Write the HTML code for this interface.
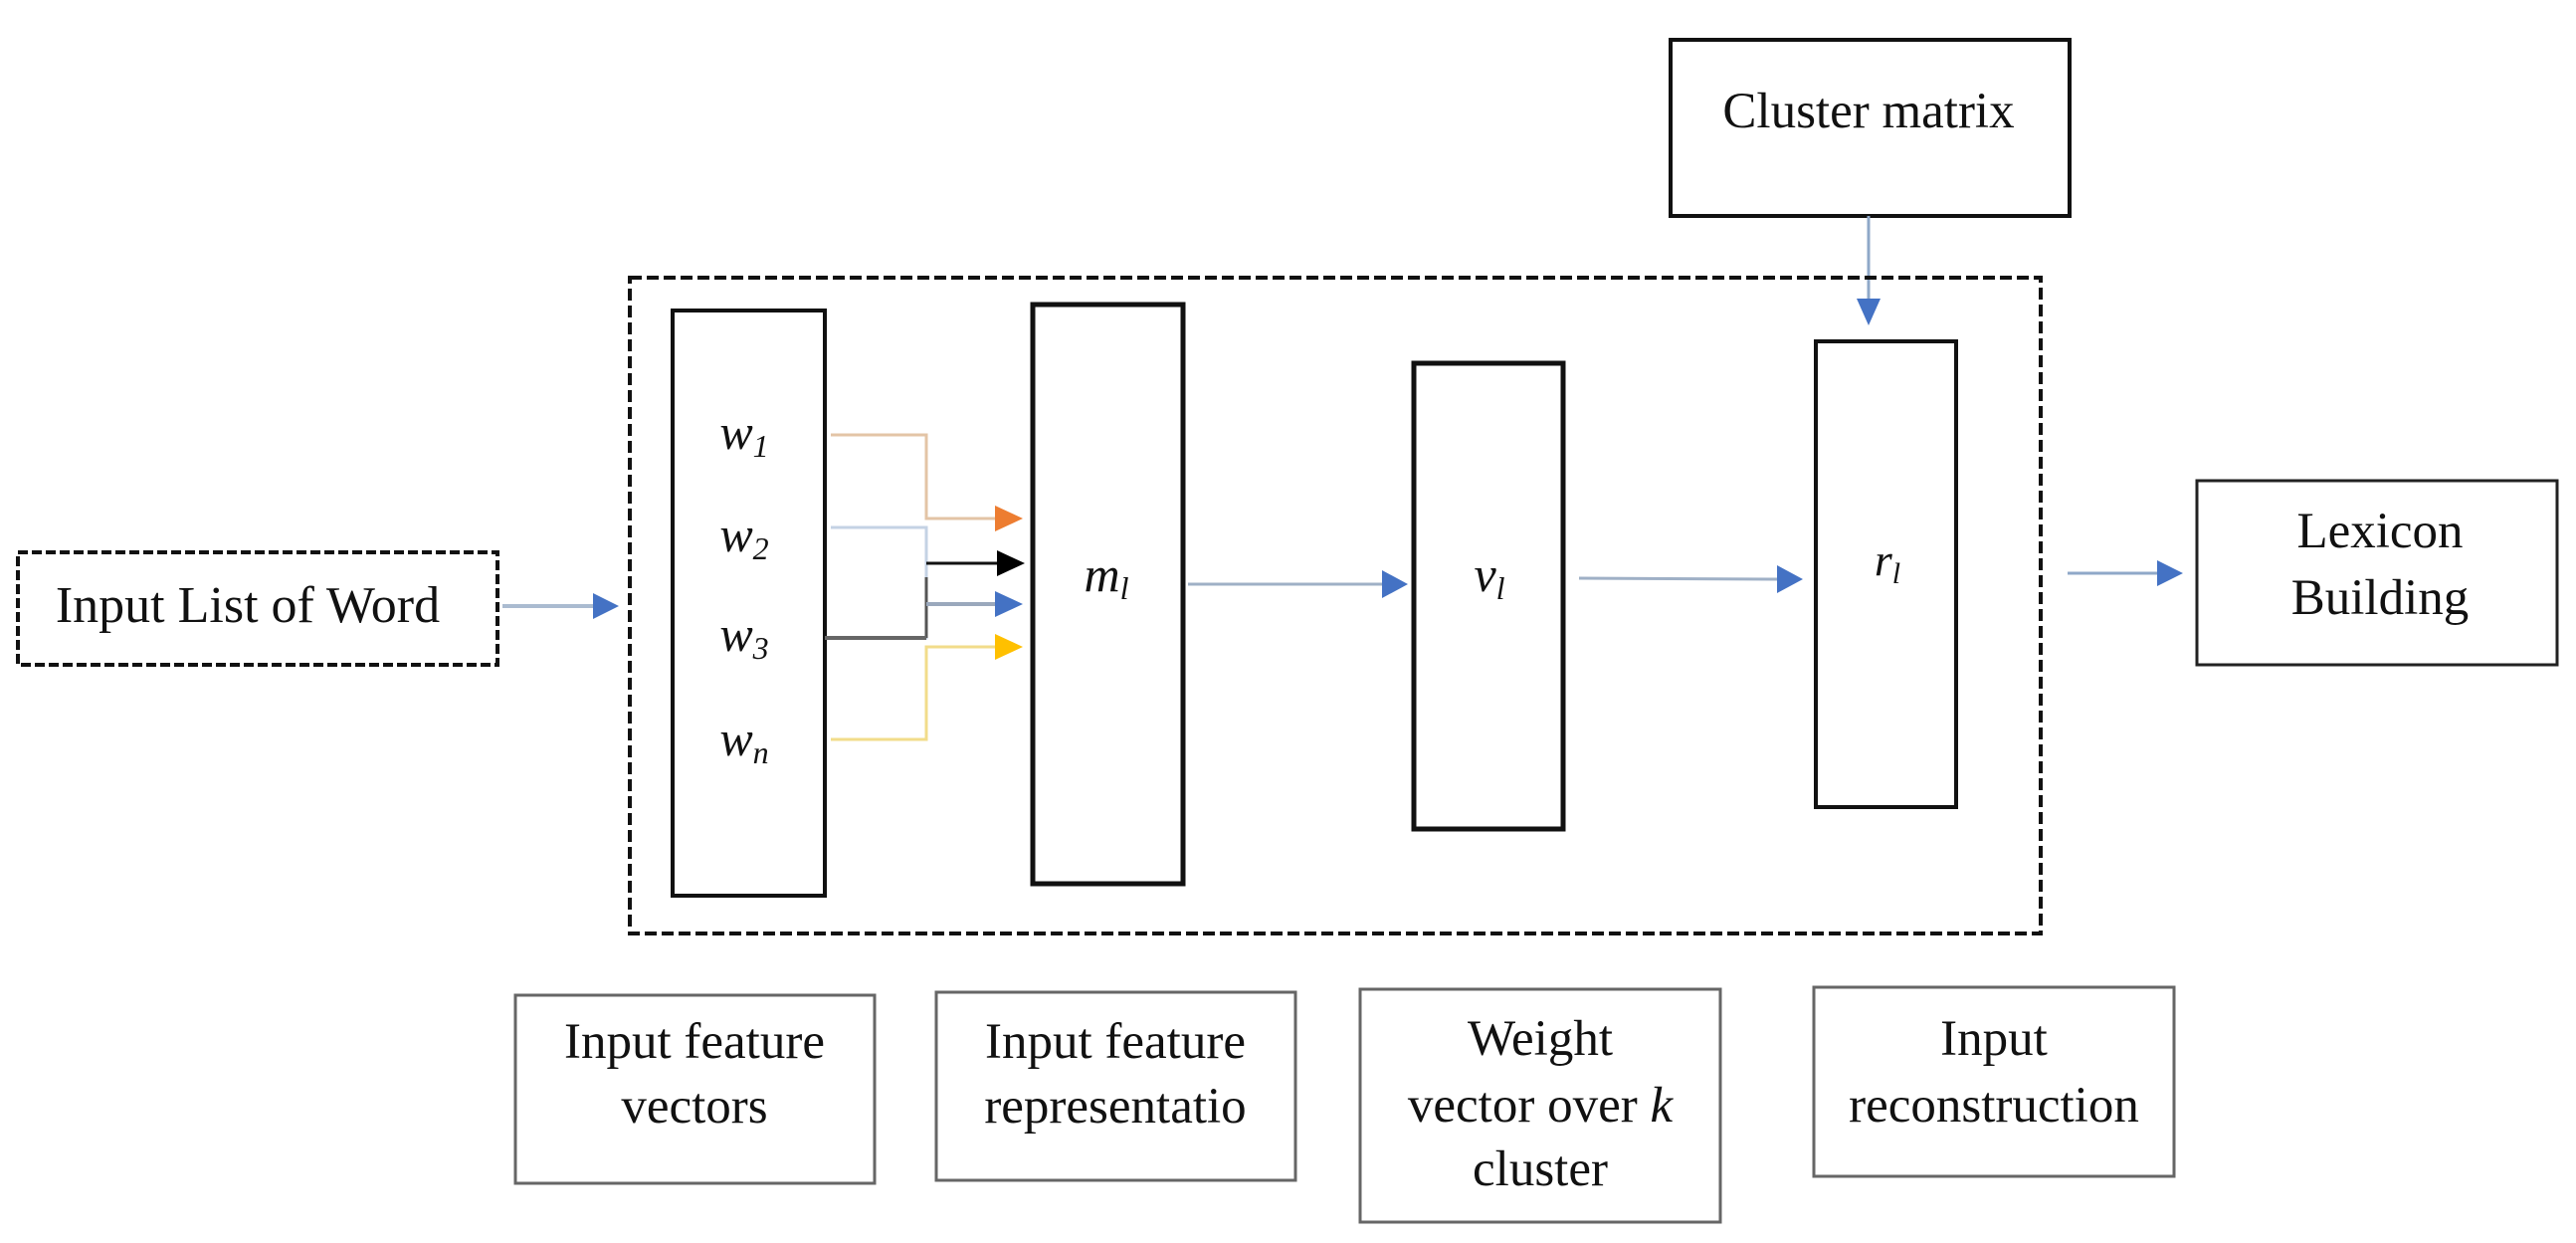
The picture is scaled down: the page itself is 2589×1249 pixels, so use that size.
<!DOCTYPE html>
<html><head><meta charset="utf-8"><style>
html,body{margin:0;padding:0;background:#fff;}
svg{display:block;}
text{font-family:"Liberation Serif",serif;fill:#111;}
</style></head><body>
<svg width="2589" height="1249" viewBox="0 0 2589 1249" xmlns="http://www.w3.org/2000/svg">
<!-- Cluster matrix -->
<rect x="1679" y="40" width="401" height="177" fill="none" stroke="#111" stroke-width="4"/>
<text x="1878" y="128" font-size="51" text-anchor="middle">Cluster matrix</text>
<line x1="1878" y1="217" x2="1878" y2="300" stroke="#8fa8c8" stroke-width="3"/>
<path d="M1866,300 L1890,300 L1878,327 z" fill="#4472C4"/>

<!-- outer dashed -->
<rect x="633" y="279" width="1418" height="659" fill="none" stroke="#111" stroke-width="4" stroke-dasharray="12,5"/>

<!-- Input list -->
<rect x="18" y="555" width="482" height="113" fill="none" stroke="#111" stroke-width="4" stroke-dasharray="10,4"/>
<text x="249" y="625" font-size="52" text-anchor="middle">Input List of Word</text>
<line x1="505" y1="609" x2="598" y2="609" stroke="#aabbd0" stroke-width="4"/>
<path d="M596,596 L622,609 L596,622 z" fill="#4472C4"/>

<!-- w box -->
<rect x="676" y="312" width="153" height="588" fill="none" stroke="#111" stroke-width="4"/>
<g font-size="50" font-style="italic" text-anchor="middle">
<text x="748" y="451">w<tspan font-size="32" dy="8">1</tspan></text>
<text x="748" y="554">w<tspan font-size="32" dy="8">2</tspan></text>
<text x="748" y="654">w<tspan font-size="32" dy="8">3</tspan></text>
<text x="748" y="759">w<tspan font-size="32" dy="8">n</tspan></text>
</g>
<!-- connectors -->
<polyline points="835,437 931,437 931,521 1002,521" fill="none" stroke="#e3c4a6" stroke-width="3"/>
<path d="M1000,508 L1028,521 L1000,534 z" fill="#ED7D31"/>
<polyline points="835,530 931,530 931,641 829,641" fill="none" stroke="#c4d2e4" stroke-width="3"/>
<line x1="931" y1="580" x2="931" y2="641" stroke="#555" stroke-width="3"/>
<line x1="829" y1="641" x2="931" y2="641" stroke="#666" stroke-width="4"/>
<line x1="931" y1="566" x2="1004" y2="566" stroke="#111" stroke-width="3"/>
<path d="M1002,553 L1030,566 L1002,579 z" fill="#000"/>
<line x1="931" y1="607" x2="1002" y2="607" stroke="#9aa8bc" stroke-width="4"/>
<path d="M1000,594 L1028,607 L1000,620 z" fill="#4472C4"/>
<polyline points="835,743 931,743 931,650 1002,650" fill="none" stroke="#f2dc8a" stroke-width="3"/>
<path d="M1000,637 L1028,650 L1000,663 z" fill="#FFC000"/>

<!-- m box -->
<rect x="1038" y="306" width="151" height="582" fill="none" stroke="#111" stroke-width="5"/>
<text x="1112" y="594" font-size="50" font-style="italic" text-anchor="middle">m<tspan font-size="32" dy="8">l</tspan></text>
<line x1="1194" y1="587" x2="1392" y2="587" stroke="#9fb0c6" stroke-width="3"/>
<path d="M1389,573 L1415,587 L1389,601 z" fill="#4472C4"/>

<!-- v box -->
<rect x="1421" y="365" width="150" height="468" fill="none" stroke="#111" stroke-width="5"/>
<text x="1497" y="594" font-size="50" font-style="italic" text-anchor="middle">v<tspan font-size="32" dy="8">l</tspan></text>
<line x1="1587" y1="581" x2="1790" y2="582" stroke="#9fb0c6" stroke-width="3"/>
<path d="M1786,568 L1812,582 L1786,596 z" fill="#4472C4"/>

<!-- r box -->
<rect x="1825" y="343" width="141" height="468" fill="none" stroke="#111" stroke-width="4"/>
<text x="1897" y="578" font-size="46" font-style="italic" text-anchor="middle">r<tspan font-size="30" dy="8">l</tspan></text>
<line x1="2078" y1="576" x2="2172" y2="576" stroke="#8fa8c8" stroke-width="3"/>
<path d="M2168,563 L2194,576 L2168,589 z" fill="#4472C4"/>

<!-- Lexicon -->
<rect x="2208" y="483" width="362" height="185" fill="none" stroke="#222" stroke-width="3"/>
<text x="2392" y="550" font-size="51" text-anchor="middle">Lexicon</text>
<text x="2392" y="617" font-size="51" text-anchor="middle">Building</text>

<!-- bottom boxes -->
<g fill="none" stroke="#666" stroke-width="3">
<rect x="518" y="1000" width="361" height="189"/>
<rect x="941" y="997" width="361" height="189"/>
<rect x="1367" y="994" width="362" height="234"/>
<rect x="1823" y="992" width="362" height="190"/>
</g>
<g font-size="51" text-anchor="middle">
<text x="698" y="1063">Input feature</text>
<text x="698" y="1128">vectors</text>
<text x="1121" y="1063">Input feature</text>
<text x="1121" y="1128">representatio</text>
<text x="1548" y="1060">Weight</text>
<text x="1548" y="1127">vector over <tspan font-style="italic">k</tspan></text>
<text x="1548" y="1191">cluster</text>
<text x="2004" y="1060">Input</text>
<text x="2004" y="1127">reconstruction</text>
</g>
</svg>
</body></html>
